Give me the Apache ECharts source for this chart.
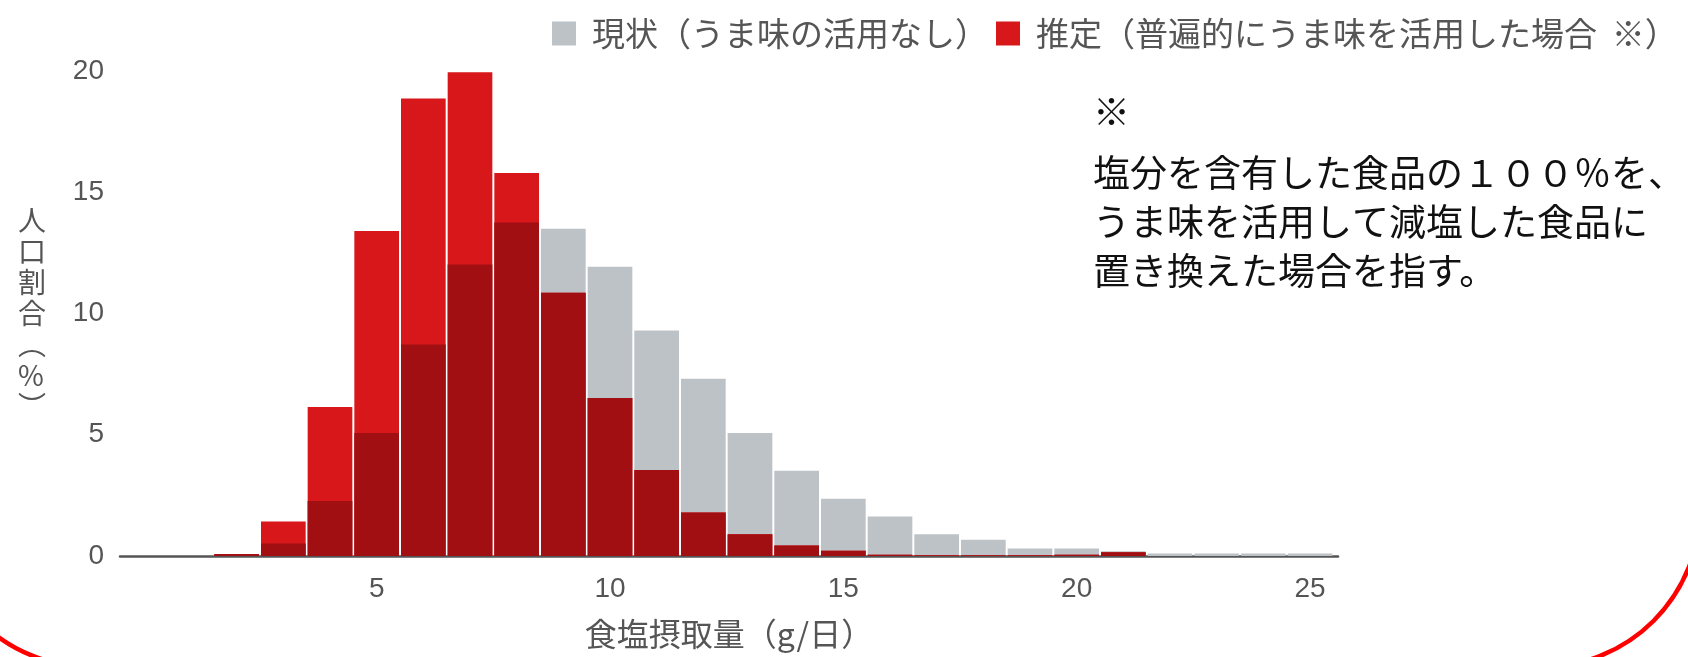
<!DOCTYPE html>
<html>
<head>
<meta charset="utf-8">
<script src="https://cdn.jsdelivr.net/npm/echarts@6/dist/echarts.min.js"></script>
<style>
  html, body { margin: 0; padding: 0; background: #ffffff; }
  #chart { width: 1688px; height: 657px; }
</style>
</head>
<body>
<div id="chart"></div>
<script>
// Salt intake bins (g/day, bin centres) and share of population (%) per bin
const saltIntake = [0, 1, 2, 3, 4, 5, 6, 7, 8, 9, 10, 11, 12, 13, 14, 15, 16, 17, 18, 19, 20, 21, 22, 23, 24, 25];
// 現状（うま味の活用なし）
const currentShare = [0, 0, 0.08, 0.52, 2.27, 5.07, 8.72, 12.02, 13.75, 13.50, 11.93, 9.30, 7.31, 5.07, 3.52, 2.36, 1.63, 0.90, 0.67, 0.31, 0.31, 0.20, 0.10, 0.10, 0.10, 0.10];
// 推定（普遍的にうま味を活用した場合）
const estimatedShare = [0, 0, 0.08, 1.42, 6.14, 13.40, 18.87, 19.95, 15.79, 10.86, 6.52, 3.55, 1.79, 0.90, 0.43, 0.22, 0.05, 0.03, 0.03, 0.03, 0.05, 0.15, 0, 0, 0, 0];
const xTickValues = [5, 10, 15, 20, 25];

const seriesNames = ['現状（うま味の活用なし）', '推定（普遍的にうま味を活用した場合  ※）'];
const noteMark = '※';
const noteLines = ['塩分を含有した食品の１００％を、', 'うま味を活用して減塩した食品に', '置き換えた場合を指す。'];
const xAxisTitle = '食塩摂取量（g/日）';
const yAxisTitle = ['人', '口', '割', '合', '︵', '%', '︶'];

const GRAY = '#bdc2c6';
const RED = '#d8171b';
const DARK = '#a10f13';
const TEXT_GRAY = '#555555';
const JP = "'Noto Sans CJK JP', sans-serif";
const NUM = "'Liberation Sans', Arial, sans-serif";

// Rectangle covering one 1 g wide bin from 0 up to value v, with a thin white gap between bins
function binRect(api, x, v) {
  const top = api.coord([x - 0.5, v]);
  const base = api.coord([x + 0.5, 0]);
  return { x: top[0] + 1, y: top[1], width: base[0] - top[0] - 2, height: base[1] - top[1] };
}

const chart = echarts.init(document.getElementById('chart'), null, { renderer: 'canvas' });

chart.setOption({
  animation: false,
  backgroundColor: '#ffffff',
  grid: { left: 120, right: 350, top: 71, bottom: 101, containLabel: false },
  legend: {
    left: 547,
    top: 12,
    width: 1200,
    orient: 'horizontal',
    itemWidth: 24,
    itemHeight: 24,
    itemGap: 8,
    icon: 'rect',
    selectedMode: false,
    textStyle: { fontFamily: JP, fontSize: 33, color: TEXT_GRAY, padding: [0, 0, 0, 11] },
    data: seriesNames
  },
  xAxis: {
    type: 'value',
    min: -0.5,
    max: 25.6,
    name: xAxisTitle,
    nameLocation: 'middle',
    nameGap: 62,
    nameTextStyle: { fontFamily: JP, fontSize: 32, color: TEXT_GRAY },
    axisLine: { show: true, onZero: false, lineStyle: { color: '#555555', width: 2.5 } },
    axisTick: { show: false },
    splitLine: { show: false },
    axisLabel: {
      customValues: xTickValues,
      fontFamily: NUM, fontSize: 28, color: TEXT_GRAY, margin: 19
    }
  },
  yAxis: {
    type: 'value',
    min: 0,
    max: 20,
    interval: 5,
    axisLine: { show: false },
    axisTick: { show: false },
    splitLine: { show: false },
    axisLabel: { fontFamily: NUM, fontSize: 28, color: TEXT_GRAY, margin: 16 }
  },
  series: [
    {
      name: seriesNames[0],
      type: 'custom',
      itemStyle: { color: GRAY },
      encode: { x: 0, y: 1 },
      data: saltIntake.map((b, i) => [b, currentShare[i]]),
      renderItem: function (params, api) {
        const v = api.value(1);
        if (!v) return null;
        return { type: 'rect', shape: binRect(api, api.value(0), v), style: { fill: GRAY } };
      },
      z: 2
    },
    {
      name: seriesNames[1],
      type: 'custom',
      itemStyle: { color: RED },
      encode: { x: 0, y: 1 },
      data: saltIntake.map((b, i) => [b, estimatedShare[i], currentShare[i]]),
      renderItem: function (params, api) {
        const x = api.value(0);
        const est = api.value(1);
        const cur = api.value(2);
        const children = [];
        if (est > 0) {
          children.push({ type: 'rect', shape: binRect(api, x, est), style: { fill: RED } });
          // where both distributions overlap the bar turns dark red
          const both = Math.min(est, cur);
          if (both > 0) {
            children.push({ type: 'rect', shape: binRect(api, x, both), style: { fill: DARK } });
          }
        }
        return { type: 'group', children: children };
      },
      z: 3
    }
  ],
  graphic: [
    {
      type: 'text',
      left: 18,
      top: 205,
      style: {
        text: yAxisTitle.join('\n'),
        fontFamily: JP,
        fontSize: 28,
        lineHeight: 31,
        fill: TEXT_GRAY,
        align: 'center'
      }
    },
    {
      type: 'text',
      left: 1093,
      top: 88,
      style: { text: noteMark, fontFamily: JP, fontSize: 37, lineHeight: 48, fill: '#111111' }
    },
    {
      type: 'text',
      left: 1093,
      top: 148,
      style: {
        text: noteLines.join('\n'),
        fontFamily: JP,
        fontSize: 37,
        lineHeight: 49,
        fill: '#111111'
      }
    },
    {
      type: 'rect',
      silent: true,
      shape: { x: -67, y: -400, width: 1767, height: 1067, r: 158 },
      style: { fill: 'none', stroke: '#ff0000', lineWidth: 4.5 },
      z: 10
    }
  ]
});
</script>
</body>
</html>
